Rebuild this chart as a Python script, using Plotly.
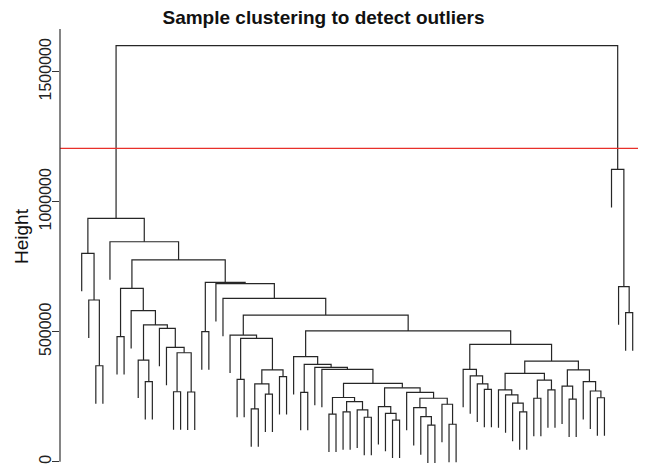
import plotly.graph_objects as go

# hclust-style merge table: negative = leaf id, positive = earlier merge row (1-based)
merge_a = [-3, -2, -1, -6, -10, -9, -14, -16, 7, -13, -12, 6, -8, 4,
           -18, -23, -25, -27, 17, -29, 19, 16, -22, -32,
           -36, -38, -41, -40, 26, 25, -45, -44, -43, -50, -49, -48, -53, -52, 36, -47, 33, 30,
           -35, -34, 24, -31,
           -58, -57, -56, -55,
           -63, -62, -61, -60, -65, -67, 55, 54, -70, -69, -74, -73, -72, 60, 58, 50, 46, 23,
           -21, -20, 15, 14, -5, 3,
           -78, -77, -76, 74]
merge_b = [-4, 1, 2, -7, -11, 5, -15, -17, 8, 9, 10, 11, 12, 13,
           -19, -24, -26, -28, 18, -30, 20, 21, 22, -33,
           -37, -39, -42, 27, 28, 29, -46, 31, 32, -51, 34, 35, -54, 37, 38, 39, 40, 41,
           42, 43, 44, 45,
           -59, 47, 48, 49,
           -64, 51, 52, 53, -66, -68, 56, 57, -71, 59, -75, 61, 62, 63, 64, 65, 66, 67,
           68, 69, 70, 71, 72, 73,
           -79, 75, 76, 77]
merge_h = [369000, 622000, 801000, 481000, 308000, 391000, 269000, 268000, 419000, 440000,
           513000, 526000, 581000, 667000,
           500000, 317000, 203000, 260000, 299000, 327000, 353000, 474000, 487000, 267000,
           183000, 192000, 171000, 199000, 231000, 247000, 160000, 186000, 212000, 141000,
           173000, 208000, 144000, 221000, 244000, 267000, 284000, 301000,
           355000, 363000, 374000, 404000,
           278000, 299000, 330000, 355000,
           192000, 225000, 257000, 276000, 244000, 276000, 314000, 340000, 241000, 291000,
           246000, 272000, 308000, 353000, 387000, 451000, 503000, 564000,
           628000, 685000, 690000, 776000, 846000, 936000,
           573000, 673000, 1124000, 1600000]
hang_frac = 0.1
cut_height = 1205000
y_ticks = [0, 500000, 1000000, 1500000]
y_tick_text = ["0", "500000", "1000000", "1500000"]
title_text = "Sample clustering to detect outliers"
y_label = "Height"

n_merge = len(merge_a)
n_leaf = n_merge + 1

# leaf order by traversal
def leaves(node):
    if node < 0:
        return [-node]
    i = node - 1
    return leaves(merge_a[i]) + leaves(merge_b[i])

order = leaves(n_merge)
leaf_x = {lf: k + 1 for k, lf in enumerate(order)}
node_x = {}
def xpos(node):
    if node < 0:
        return leaf_x[-node]
    if node not in node_x:
        i = node - 1
        node_x[node] = (xpos(merge_a[i]) + xpos(merge_b[i])) / 2
    return node_x[node]

hang = hang_frac * (max(merge_h) - min(merge_h))
xs, ys = [], []
for i in range(n_merge):
    h = merge_h[i]
    a, b = merge_a[i], merge_b[i]
    xa, xb = xpos(a), xpos(b)
    ya = merge_h[a - 1] if a > 0 else h - hang
    yb = merge_h[b - 1] if b > 0 else h - hang
    xs += [xa, xa, xb, xb, None]
    ys += [ya, h, h, yb, None]

# page coordinates (px); the html body adds an 8px offset
PAGE_W, PAGE_H = 646, 475
OFF = 8
W, H = PAGE_W - OFF, PAGE_H - OFF
axis_x_page, top_page = 60, 29
px_per_unit_y = 130 / 500000.0
zero_y_page = 461.7
y_top = (zero_y_page - top_page) / px_per_unit_y
y_bot = (zero_y_page - PAGE_H) / px_per_unit_y
px_per_leaf = 7.064
first_leaf_page, last_leaf_page = 81.7, 632.7
x_left = 1 - (first_leaf_page - axis_x_page) / px_per_leaf
x_right = n_leaf + (PAGE_W - last_leaf_page) / px_per_leaf

m_l = axis_x_page - OFF
m_t = top_page - OFF
plot_w = W - m_l
plot_h = H - m_t

fig = go.Figure()
fig.add_trace(go.Scatter(x=xs, y=ys, mode="lines",
                         line=dict(color="#262626", width=1.2),
                         hoverinfo="skip", showlegend=False))

fig.add_shape(type="line", xref="paper", yref="y", x0=0, x1=1,
              y0=cut_height, y1=cut_height, line=dict(color="#e8302a", width=1.2))
fig.add_shape(type="line", xref="paper", yref="y", x0=0, x1=0,
              y0=0, y1=y_top, line=dict(color="#333333", width=1.2))

fig.update_layout(
    width=W, height=H,
    margin=dict(l=m_l, r=0, t=m_t, b=0, autoexpand=False),
    plot_bgcolor="white", paper_bgcolor="white",
    font=dict(family="Liberation Sans, Arial, sans-serif", color="#111111"),
    title=dict(text="<b>" + title_text + "</b>", x=((165 + 482) / 2 - OFF) / W, xanchor="center",
               y=1 - (17 - OFF) / H, yanchor="middle", yref="container",
               font=dict(size=19, color="#111111")),
    xaxis=dict(range=[x_left, x_right], visible=False, automargin=False),
    yaxis=dict(range=[y_bot, y_top], tickvals=y_ticks, ticktext=y_tick_text,
               ticks="outside", ticklen=7, tickcolor="#333333", tickwidth=1.2,
               tickangle=-90, tickfont=dict(size=16, color="#222222"),
               ticklabelstandoff=-5,
               showgrid=False, zeroline=False, showline=False, automargin=False),
    annotations=[dict(text=y_label, textangle=-90, xref="paper", yref="paper",
                      x=(21 - axis_x_page) / plot_w, y=(PAGE_H - 236) / plot_h,
                      xanchor="center", yanchor="middle", showarrow=False,
                      font=dict(size=19, color="#111111"))],
)

fig.write_html("out.html")
